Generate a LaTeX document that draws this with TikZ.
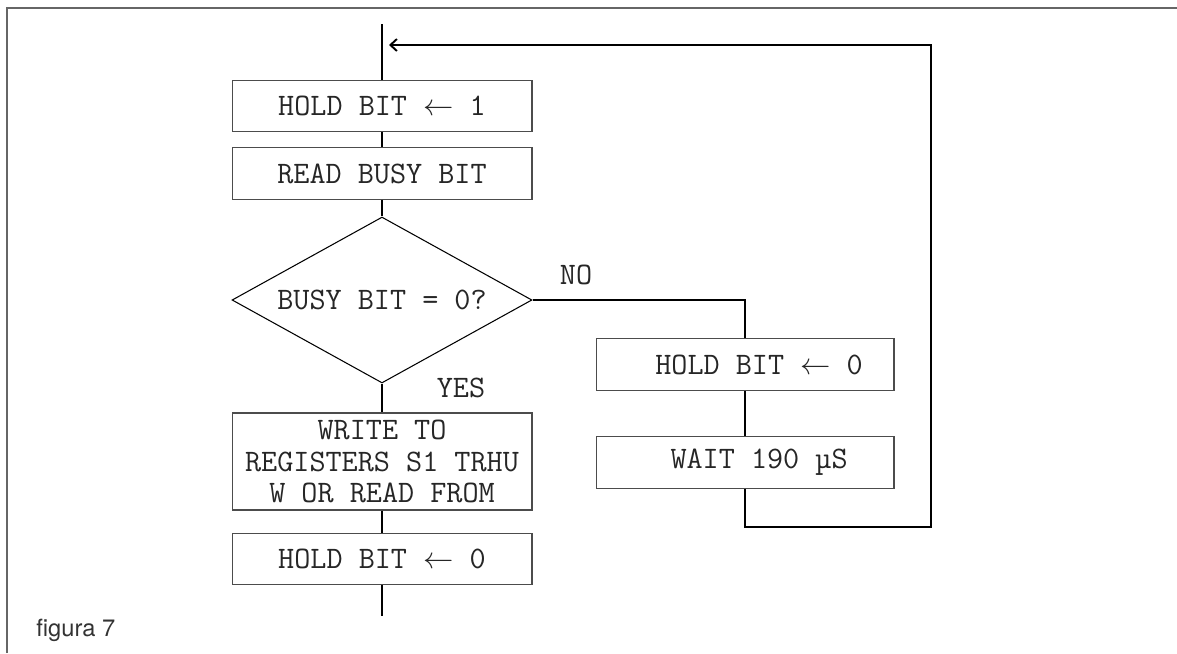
\documentclass[tikz,border=0pt]{standalone}
\usepackage{fontspec}
\setsansfont{TeX Gyre Heros}
\usetikzlibrary{arrows.meta, shapes.geometric}
\newcommand{\boxfont}{\ttfamily\fontsize{17.8}{18}\selectfont}
\tikzset{
  frameline/.style  = {black!60, line width=0.6pt},
  flowline/.style   = {black, line width=1.1pt},
  procbox/.style    = {draw=black!70, line width=0.6pt, inner sep=0pt,
                       minimum width=6cm, minimum height=1.03cm,
                       align=center, font=\boxfont, text=black!85},
  decision/.style   = {diamond, draw=black, line width=0.6pt, inner sep=0pt,
                       aspect=1.8, minimum width=6cm, minimum height=3.32cm,
                       font=\boxfont, text=black!85},
  lbl/.style        = {font=\boxfont, text=black!85, inner sep=0pt},
  caption/.style    = {font=\sffamily\fontsize{13.5}{16}\selectfont,
                       text=black!80, inner sep=0pt},
}

\begin{document}
\begin{tikzpicture}[x=0.02cm, y=-0.02cm]
  \useasboundingbox (0,0) rectangle (1177,653);
  \draw[frameline] (7,653) -- (7,8) -- (1177,8);

  \coordinate (top)     at (382,24);
  \coordinate (bottom)  at (382,616);
  \coordinate (loopBR)  at (931,527);
  \coordinate (loopTR)  at (931,45);
  \coordinate (loopend) at (389,45);

  % main column
  \node[procbox] (hold1)    at (382,106)   {HOLD BIT $\leftarrow$ 1};
  \node[procbox] (readbusy) at (382,173.5) {READ BUSY BIT};
  \node[decision] (busytest) at (382,300)  {BUSY BIT = 0?};
  \node[procbox, minimum height=1.94cm] (writeregs) at (382,461.5)
    {WRITE TO\\REGISTERS S1 TRHU\\W OR READ FROM};
  \node[procbox] (hold0)    at (382,559)   {HOLD BIT $\leftarrow$ 0};

  % NO branch
  \node[procbox, minimum width=5.96cm] (holdno) at (745,364.5)
    {\hspace*{0.9em}HOLD BIT $\leftarrow$ 0};
  \node[procbox, minimum width=5.96cm] (wait)   at (745,462.5)
    {\hspace*{0.9em}WAIT 190 µS};

  \node[lbl] (yes) at (461,388) {YES};
  \node[lbl] (no)  at (576,275) {NO};

  \draw[flowline] (top) -- (hold1);
  \draw[flowline] (hold1) -- (readbusy);
  \draw[flowline] (readbusy) -- (busytest);
  \draw[flowline] (busytest) -- (writeregs);
  \draw[flowline] (writeregs) -- (hold0);
  \draw[flowline] (hold0) -- (bottom);
  \draw[flowline] (busytest.east) -| (holdno);
  \draw[flowline] (holdno) -- (wait);
  \draw[flowline, -{Straight Barb[length=1.3mm, width=2.4mm]}]
    (wait) |- (loopBR) -- (loopTR) -- (loopend);

  \node[caption, anchor=west] (fig) at (36,630) {figura 7};
\end{tikzpicture}
\end{document}
